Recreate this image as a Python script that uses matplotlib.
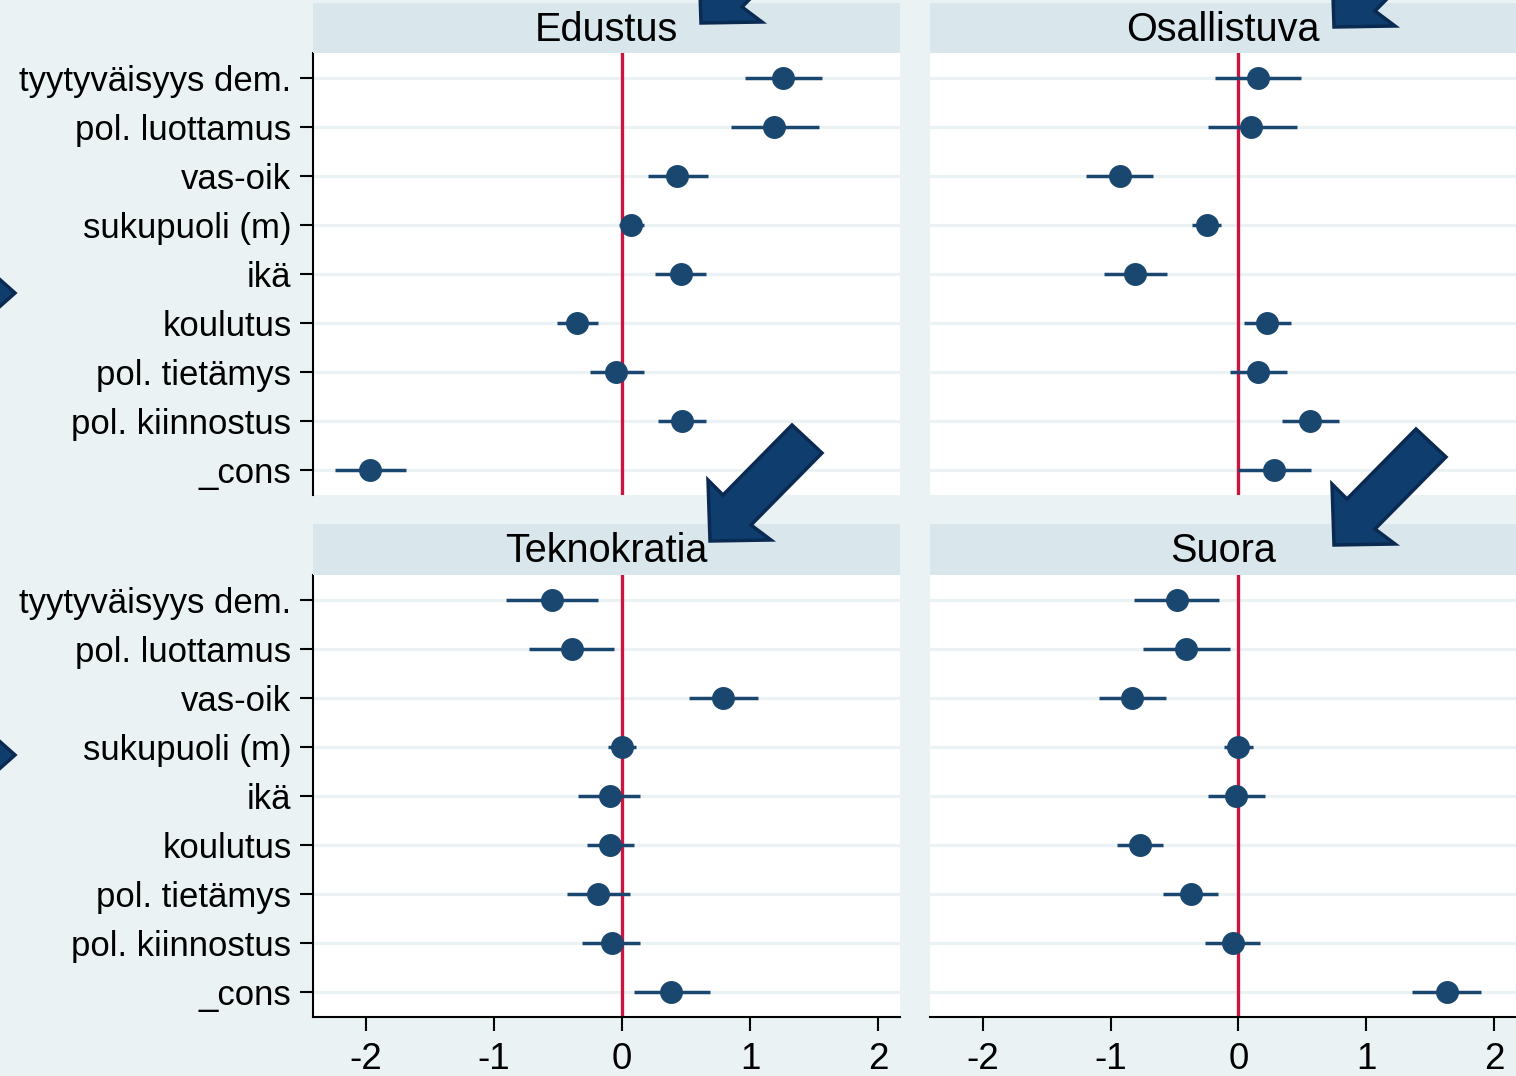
import matplotlib
matplotlib.use("Agg")
import matplotlib.pyplot as plt
from matplotlib.patches import Rectangle, Polygon

plt.rcParams['font.family'] = ['Liberation Sans', 'DejaVu Sans']

labels = ["tyytyväisyys dem.", "pol. luottamus", "vas-oik", "sukupuoli (m)",
          "ikä", "koulutus", "pol. tietämys", "pol. kiinnostus", "_cons"]

titles = ["Edustus", "Osallistuva", "Teknokratia", "Suora"]

edustus_coef = [1.26, 1.19, 0.43, 0.07, 0.46, -0.35, -0.05, 0.47, -1.97]
edustus_lo = [0.96, 0.85, 0.20, -0.02, 0.26, -0.51, -0.25, 0.28, -2.24]
edustus_hi = [1.56, 1.54, 0.67, 0.17, 0.66, -0.19, 0.17, 0.66, -1.69]

osallistuva_coef = [0.15, 0.10, -0.93, -0.25, -0.81, 0.22, 0.15, 0.56, 0.28]
osallistuva_lo = [-0.18, -0.24, -1.19, -0.36, -1.05, 0.04, -0.07, 0.34, 0.00]
osallistuva_hi = [0.49, 0.46, -0.67, -0.14, -0.56, 0.41, 0.38, 0.79, 0.57]

teknokratia_coef = [-0.55, -0.39, 0.79, 0.00, -0.09, -0.09, -0.19, -0.08, 0.38]
teknokratia_lo = [-0.91, -0.73, 0.52, -0.11, -0.34, -0.27, -0.43, -0.31, 0.09]
teknokratia_hi = [-0.19, -0.06, 1.06, 0.11, 0.14, 0.09, 0.06, 0.14, 0.69]

suora_coef = [-0.48, -0.41, -0.83, 0.00, -0.02, -0.77, -0.37, -0.04, 1.63]
suora_lo = [-0.82, -0.75, -1.09, -0.11, -0.24, -0.95, -0.59, -0.26, 1.36]
suora_hi = [-0.15, -0.07, -0.57, 0.11, 0.21, -0.59, -0.16, 0.17, 1.90]

xticks = [-2, -1, 0, 1, 2]

W, H = 1516, 1076
BG = '#EAF2F3'
STRIP = '#D9E6EB'
NAVY = '#1A476F'
RED = '#CC1440'
ARROW = '#0F3D6E'
ARROW_EDGE = '#0A2A52'

fig = plt.figure(figsize=(W / 100, H / 100), dpi=100, facecolor=BG)


def fx(x):
    return x / W


def fy(y):
    return 1 - y / H


panels = [
    # (left, right, strip_top, plot_top, plot_bottom)
    (313, 900, 3, 53, 495),
    (930, 1516, 3, 53, 495),
    (313, 900, 524, 575, 1017),
    (930, 1516, 524, 575, 1017),
]

data = [
    (edustus_coef, edustus_lo, edustus_hi),
    (osallistuva_coef, osallistuva_lo, osallistuva_hi),
    (teknokratia_coef, teknokratia_lo, teknokratia_hi),
    (suora_coef, suora_lo, suora_hi),
]

ypos = list(range(1, len(labels) + 1))

for i, ((l, r, st, pt, pb), (coef, lo, hi), title) in enumerate(zip(panels, data, titles)):
    # strip
    fig.add_artist(Rectangle((fx(l), fy(pt)), fx(r - l), fy(st) - fy(pt),
                             transform=fig.transFigure, facecolor=STRIP,
                             edgecolor='none', zorder=0.5))
    fig.text(fx((l + r) / 2), fy((st + pt) / 2 + 2), title, ha='center', va='center',
             fontsize=28.5, color='black', zorder=3)

    ax = fig.add_axes([fx(l), fy(pb), fx(r - l), fy(pt) - fy(pb)])
    ax.set_facecolor('white')
    ax.set_xlim(-2.414, 2.172)
    ax.set_ylim(9.5, 0.5)
    for y in ypos:
        ax.axhline(y, color=BG, lw=2.2, zorder=1)
    ax.axvline(0, color=RED, lw=2.4, zorder=2)
    ax.hlines(ypos, lo, hi, color=NAVY, lw=2.5, zorder=3)
    ax.plot(coef, ypos, 'o', color=NAVY, markersize=15.5, zorder=4)

    for s in ['top', 'right']:
        ax.spines[s].set_visible(False)
    left_col = i in (0, 2)
    bottom_row = i in (2, 3)
    ax.spines['left'].set_visible(left_col)
    ax.spines['bottom'].set_visible(bottom_row)
    ax.spines['left'].set_linewidth(1.5)
    ax.spines['bottom'].set_linewidth(1.5)

    if left_col:
        ax.set_yticks(ypos)
        ax.set_yticklabels(labels, fontsize=25)
        ax.tick_params(axis='y', length=9.5, width=1.5, pad=6)
    else:
        ax.set_yticks([])
    if bottom_row:
        ax.set_xticks(xticks)
        ax.set_xticklabels([str(t) for t in xticks], fontsize=26.5)
        ax.tick_params(axis='x', length=10, width=1.5, pad=8)
    else:
        ax.set_xticks([])

# decorative arrows (annotation overlays)
arrow_shape = [(82, -116), (112, -88), (41, -16), (61, -1), (0, 0), (-2, -61), (13, -46)]
arrow_tips = [(710, 541), (1334, 545), (701, 23), (1334, 27)]
for tx, ty in arrow_tips:
    pts = [(fx(tx + dx), fy(ty + dy)) for dx, dy in arrow_shape]
    fig.add_artist(Polygon(pts, closed=True, transform=fig.transFigure,
                           facecolor=ARROW, edgecolor=ARROW_EDGE, lw=2.5, zorder=5))

for cy in (293, 755):
    pts = [(fx(-30), fy(cy - 40)), (fx(15), fy(cy)), (fx(-30), fy(cy + 40))]
    fig.add_artist(Polygon(pts, closed=True, transform=fig.transFigure,
                           facecolor=ARROW, edgecolor=ARROW_EDGE, lw=2.5, zorder=5))

fig.savefig('out.png', dpi=100, facecolor=BG)
